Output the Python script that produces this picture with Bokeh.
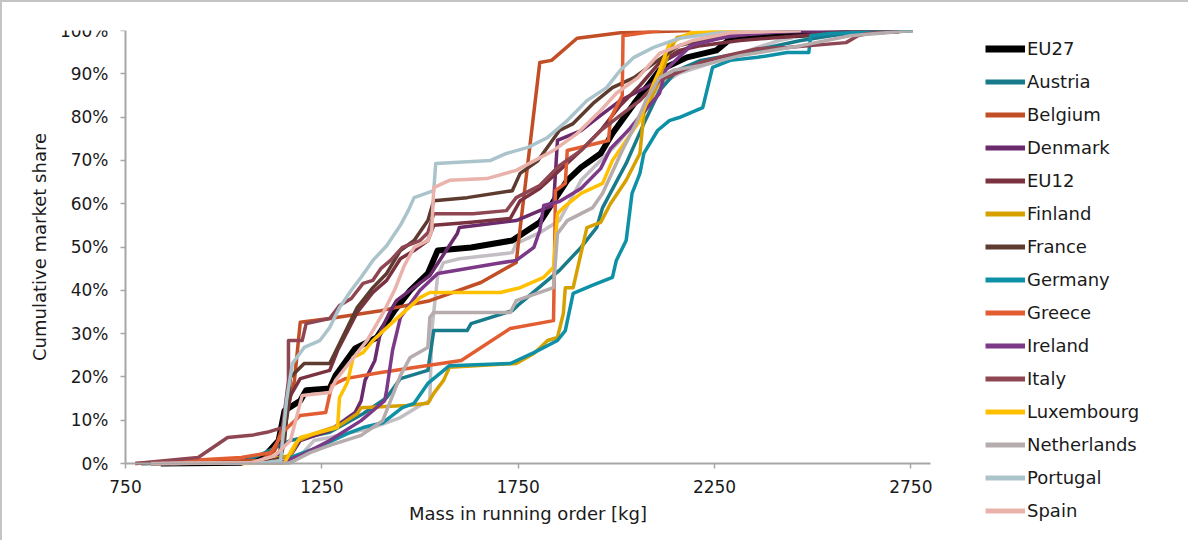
from bokeh.plotting import figure
from bokeh.models import Range1d, FixedTicker, NumeralTickFormatter, Legend, LegendItem
from bokeh.embed import file_html
from bokeh.resources import INLINE

# ---- data: mass in running order [kg] and cumulative share [%] ----
eu27_kg = [840, 1045, 1105, 1140, 1155, 1195, 1210, 1270, 1285, 1335, 1390, 1435, 1475, 1520, 1545, 1630, 1735, 1805, 1875, 1910, 1960, 1990, 2045, 2110, 2180, 2255, 2295, 2550, 2720]
eu27_pct = [0, 0.2, 1.8, 5.3, 12.2, 14.5, 16.9, 17.3, 20.3, 26.6, 29.1, 35.3, 40.0, 43.9, 49.2, 49.9, 51.5, 55.7, 65.4, 68.4, 71.6, 76.2, 83.1, 90.8, 93.8, 95.4, 98.4, 99.3, 100]

austria_kg = [790, 1045, 1100, 1170, 1270, 1355, 1415, 1450, 1520, 1535, 1620, 1630, 1735, 1755, 1855, 1910, 1950, 1965, 2025, 2070, 2110, 2155, 2215, 2315, 2470, 2595, 2755]
austria_pct = [0, 0.2, 2.3, 5.3, 7.2, 11.5, 15.2, 19.6, 21.5, 30.7, 30.7, 32.3, 35.3, 37.0, 44.6, 49.9, 54.5, 59.1, 69.3, 78.5, 86.1, 90.8, 93.1, 94.7, 97.7, 99.5, 100]

belgium_kg = [790, 1095, 1130, 1155, 1180, 1195, 1270, 1400, 1525, 1655, 1745, 1750, 1805, 1835, 1900, 2010, 2190]
belgium_pct = [0, 0.7, 3.0, 10.0, 19.0, 32.6, 33.5, 35.3, 37.6, 41.8, 46.4, 50.5, 92.6, 93.1, 98.2, 99.5, 100]

denmark_kg = [815, 1095, 1170, 1195, 1270, 1335, 1350, 1360, 1385, 1400, 1425, 1440, 1525, 1545, 1595, 1600, 1745, 1805, 1840, 1850, 1910, 1960, 2010, 2110, 2125, 2215, 2365, 2595]
denmark_pct = [0, 0.2, 1.8, 5.3, 7.6, 11.8, 14.5, 19.2, 23.8, 30.7, 35.3, 37.6, 43.4, 46.2, 53.1, 54.5, 56.1, 58.4, 59.6, 74.6, 76.9, 80.4, 83.8, 88.5, 93.1, 97.7, 99.5, 100]

eu12_kg = [815, 1070, 1140, 1155, 1170, 1195, 1270, 1290, 1340, 1380, 1415, 1450, 1485, 1520, 1535, 1630, 1730, 1755, 1805, 1855, 1910, 1960, 2010, 2060, 2110, 2160, 2215, 2315, 2470, 2595, 2720]
eu12_pct = [0, 0.2, 1.8, 7.6, 15.7, 19.6, 21.5, 26.1, 34.9, 39.5, 42.3, 47.3, 49.2, 51.5, 55.0, 55.7, 56.6, 60.7, 63.5, 67.7, 72.3, 76.9, 82.7, 87.3, 92.6, 95.4, 96.5, 97.7, 98.8, 99.8, 100]

finland_kg = [815, 1070, 1170, 1190, 1230, 1295, 1340, 1350, 1465, 1520, 1535, 1560, 1575, 1745, 1790, 1825, 1850, 1865, 1870, 1890, 1925, 1960, 1985, 2025, 2060, 2070, 2110, 2135, 2155, 2215, 2365]
finland_pct = [0, 0.2, 1.8, 5.3, 6.9, 8.8, 11.5, 12.9, 13.4, 13.9, 16.2, 19.2, 22.2, 23.1, 25.4, 28.4, 29.1, 34.6, 40.6, 40.6, 54.5, 55.7, 60.0, 65.4, 71.6, 80.8, 88.5, 95.4, 98.4, 99.5, 100]

france_kg = [840, 1095, 1145, 1155, 1170, 1205, 1270, 1295, 1340, 1380, 1415, 1450, 1485, 1520, 1535, 1620, 1735, 1755, 1800, 1855, 1890, 1940, 1990, 2045, 2095, 2160, 2265, 2470]
france_pct = [0, 0.2, 1.2, 5.3, 19.9, 23.1, 23.1, 27.7, 36.0, 40.6, 43.9, 49.2, 51.5, 56.1, 60.7, 61.4, 63.0, 67.0, 69.9, 76.9, 78.5, 83.1, 86.8, 89.1, 92.4, 96.5, 98.8, 100]

germany_kg = [790, 1155, 1170, 1240, 1315, 1355, 1405, 1455, 1485, 1520, 1575, 1730, 1790, 1850, 1870, 1890, 1940, 1990, 2000, 2025, 2040, 2060, 2070, 2105, 2135, 2160, 2220, 2245, 2290, 2360, 2435, 2490, 2495, 2545, 2755]
germany_pct = [0, 0.2, 1.4, 3.7, 6.9, 8.3, 9.4, 12.9, 13.9, 18.5, 22.6, 23.1, 25.6, 28.4, 30.7, 39.3, 41.2, 43.0, 46.9, 51.5, 62.4, 67.0, 71.6, 76.9, 79.2, 79.9, 82.2, 91.5, 93.1, 93.8, 94.9, 94.9, 98.8, 99.3, 100]

greece_kg = [775, 1045, 1120, 1155, 1195, 1260, 1275, 1310, 1400, 1605, 1730, 1840, 1845, 1870, 1875, 1980, 1985, 2015, 2017, 2110]
greece_pct = [0, 1.4, 2.5, 7.6, 11.1, 11.8, 18.0, 19.6, 21.0, 23.8, 31.2, 33.0, 63.0, 64.7, 72.3, 74.6, 79.7, 85.0, 98.8, 100]

ireland_kg = [815, 1145, 1195, 1270, 1350, 1410, 1415, 1430, 1450, 1500, 1545, 1695, 1745, 1790, 1805, 1815, 1855, 1910, 1960, 1985, 2035, 2110, 2125, 2190, 2290, 2470]
ireland_pct = [0, 0.2, 1.8, 5.3, 9.9, 14.5, 16.9, 26.1, 33.7, 40.0, 43.9, 46.2, 46.9, 49.9, 53.8, 59.6, 60.5, 63.5, 68.1, 72.7, 77.4, 85.5, 90.8, 96.5, 98.8, 100]

italy_kg = [775, 935, 1010, 1070, 1110, 1150, 1165, 1165, 1200, 1210, 1270, 1295, 1325, 1355, 1380, 1400, 1425, 1455, 1500, 1520, 1535, 1635, 1720, 1745, 1805, 1855, 1910, 1960, 2010, 2060, 2110, 2215, 2280, 2360, 2435, 2585, 2615, 2640, 2720]
italy_pct = [0, 1.4, 6.0, 6.5, 7.2, 8.3, 19.2, 28.4, 28.4, 32.3, 33.5, 36.5, 38.1, 41.6, 42.3, 45.0, 46.9, 49.9, 51.5, 53.3, 57.7, 57.7, 58.4, 61.4, 64.2, 68.8, 72.3, 76.9, 80.4, 83.8, 88.5, 92.6, 94.2, 95.8, 96.1, 97.2, 98.8, 99.3, 100]

luxembourg_kg = [1045, 1155, 1180, 1195, 1290, 1295, 1315, 1330, 1355, 1380, 1435, 1500, 1525, 1705, 1755, 1815, 1840, 1850, 1865, 1910, 1965, 1990, 2025, 2060, 2095, 2110, 2135, 2190, 2315]
luxembourg_pct = [0, 0.2, 4.2, 6.0, 8.3, 15.2, 18.7, 24.5, 25.6, 28.4, 33.0, 38.3, 39.5, 39.5, 40.6, 43.0, 45.3, 57.7, 59.1, 62.4, 64.7, 70.0, 74.6, 79.2, 87.8, 90.8, 97.0, 99.5, 100]

netherlands_kg = [840, 1170, 1220, 1270, 1350, 1405, 1450, 1475, 1520, 1525, 1535, 1730, 1745, 1840, 1850, 1875, 1940, 1965, 2015, 2050, 2075, 2110, 2145, 2215, 2315, 2470, 2595, 2755]
netherlands_pct = [0, 0.2, 2.5, 4.2, 6.5, 9.9, 20.3, 24.5, 26.8, 33.7, 34.9, 34.9, 37.6, 40.6, 53.1, 56.1, 59.1, 62.4, 72.3, 78.5, 83.8, 89.1, 90.8, 91.9, 94.2, 96.5, 98.8, 100]

portugal_kg = [865, 1105, 1145, 1150, 1160, 1175, 1205, 1245, 1270, 1295, 1325, 1350, 1380, 1415, 1450, 1470, 1485, 1535, 1540, 1680, 1720, 1775, 1825, 1875, 1925, 1975, 2010, 2045, 2095, 2160, 2265, 2470]
portugal_pct = [0, 0.2, 0.7, 5.3, 14.5, 23.1, 26.8, 28.4, 31.4, 36.0, 40.0, 43.0, 46.9, 50.3, 55.0, 58.4, 61.4, 63.0, 69.3, 70.0, 71.6, 73.0, 75.3, 79.2, 83.8, 86.8, 90.8, 93.8, 96.1, 98.2, 99.5, 100]

spain_kg = [815, 1070, 1130, 1170, 1190, 1200, 1270, 1285, 1325, 1365, 1405, 1435, 1460, 1485, 1520, 1530, 1535, 1575, 1670, 1745, 1840, 1900, 1960, 2000, 2055, 2110, 2195, 2290, 2470]
spain_pct = [0, 0.2, 1.8, 5.3, 12.2, 15.7, 16.4, 19.2, 23.8, 28.4, 34.6, 40.0, 45.7, 49.9, 51.5, 53.8, 63.7, 65.4, 65.8, 67.7, 72.3, 76.2, 81.5, 85.5, 89.1, 94.7, 97.7, 99.5, 100]

# a further grey series drawn in the chart but not named in the visible legend
other_kg = [840, 1170, 1195, 1230, 1270, 1325, 1375, 1450, 1500, 1525, 1530, 1545, 1560, 1600, 1735, 1745, 1805, 1855, 1910, 1960, 2010, 2060, 2110, 2160, 2245, 2290, 2360, 2415, 2500, 2755]
other_pct = [0, 0.2, 1.8, 5.3, 6.0, 7.2, 8.1, 10.6, 13.4, 14.5, 30.7, 43.4, 46.4, 47.3, 48.7, 50.8, 53.3, 56.1, 65.4, 70.0, 74.6, 80.4, 87.3, 90.1, 92.6, 93.8, 96.1, 97.7, 99.3, 100]

series_names = ["EU27", "Austria", "Belgium", "Denmark", "EU12", "Finland", "France", "Germany",
                "Greece", "Ireland", "Italy", "Luxembourg", "Netherlands", "Portugal", "Spain"]
series_kg = [eu27_kg, austria_kg, belgium_kg, denmark_kg, eu12_kg, finland_kg, france_kg, germany_kg,
             greece_kg, ireland_kg, italy_kg, luxembourg_kg, netherlands_kg, portugal_kg, spain_kg]
series_pct = [eu27_pct, austria_pct, belgium_pct, denmark_pct, eu12_pct, finland_pct, france_pct, germany_pct,
              greece_pct, ireland_pct, italy_pct, luxembourg_pct, netherlands_pct, portugal_pct, spain_pct]
series_colors = ["#000000", "#177B8B", "#C24E26", "#6A2A6C", "#7A3240", "#D6A100", "#5E3B2F", "#0E90A6",
                 "#E25E32", "#7C3987", "#8E4653", "#FFC000", "#B6ABAD", "#ABC4CC", "#E9B3AC"]
other_color = "#C3BEC4"

x_ticks = [750, 1250, 1750, 2250, 2750]
y_ticks = [0, 0.1, 0.2, 0.3, 0.4, 0.5, 0.6, 0.7, 0.8, 0.9, 1.0]
X_MIN, X_MAX = 750, 2800   # extent of the visible mass axis
Y_MIN, Y_MAX = 0, 1        # extent of the visible share axis

FONT = "DejaVu Sans"
TXT = "#1a1a1a"
B = 2                      # page frame line at top and left
W, H = 1188, 540
LEFT, TOP = 30 - B, 30 - B               # frame origin inside the figure
AXIS_X0 = 125 - 30                       # where 750 kg sits inside the frame
AXIS_PX = 805                            # length of the mass axis in pixels
SHARE_PX = 433                           # length of the share axis in pixels
FRAME_W = W - 8 - LEFT                   # frame reaches into the legend area
FRAME_H = H - 4 - TOP                    # frame reaches below the x axis
KG_PER_PX = (X_MAX - X_MIN) / AXIS_PX
x_start = X_MIN - AXIS_X0 * KG_PER_PX
x_end = x_start + FRAME_W * KG_PER_PX
y_start = Y_MAX - FRAME_H / SHARE_PX

p = figure(width=W, height=H, output_backend="svg", toolbar_location=None,
           x_range=Range1d(x_start, x_end), y_range=Range1d(y_start, Y_MAX),
           min_border_left=LEFT, min_border_right=8, min_border_top=TOP, min_border_bottom=4,
           styles={"border-top": f"{B}px solid #c4c4c4", "border-left": f"{B}px solid #c4c4c4"})
p.outline_line_color = None
p.grid.visible = False
p.background_fill_color = "white"

# extra grey series first (underneath)
p.line(other_kg, [v / 100 for v in other_pct], line_color=other_color, line_width=3.5, line_join="round")

nan = float("nan")
items = []
for name, xs, ys, col in zip(series_names, series_kg, series_pct, series_colors):
    lw = 6 if name == "EU27" else 3.5
    p.line(xs, [v / 100 for v in ys], line_color=col, line_width=lw, line_join="round")
    # invisible (NaN) twin supplies the thicker legend sample
    sample = p.line(xs[:2], [nan, nan], line_color=col, line_width=7 if name == "EU27" else 5)
    items.append(LegendItem(label=name, renderers=[sample]))

legend = Legend(items=items, location=(985 - 30, 17), padding=0, margin=0,
                border_line_color=None, background_fill_alpha=0,
                glyph_width=40, glyph_height=21, label_height=21, spacing=12,
                label_standoff=2, label_text_font=FONT, label_text_font_size="18px",
                label_text_color=TXT)
p.add_layout(legend, "center")

for ax in (p.xaxis[0], p.yaxis[0]):
    ax.axis_line_color = "#A6A6A6"
    ax.axis_line_width = 2
    ax.major_tick_line_color = "#A6A6A6"
    ax.major_tick_line_width = 1.5
    ax.major_tick_out = 5
    ax.major_tick_in = 0
    ax.minor_tick_line_color = None
    ax.major_label_text_font = FONT
    ax.major_label_text_font_size = "17px"
    ax.major_label_text_color = TXT
    ax.axis_label_text_font = FONT
    ax.axis_label_text_font_size = "18px"
    ax.axis_label_text_font_style = "normal"
    ax.axis_label_text_color = TXT

p.xaxis.ticker = FixedTicker(ticks=x_ticks)
p.yaxis.ticker = FixedTicker(ticks=y_ticks)
p.xaxis.bounds = (X_MIN, X_MAX)
p.yaxis.bounds = (Y_MIN, Y_MAX)
p.xaxis.fixed_location = Y_MIN
p.yaxis.fixed_location = X_MIN
p.yaxis.formatter = NumeralTickFormatter(format="0%")
p.xaxis.axis_label = "Mass in running order [kg]"
p.yaxis.axis_label = "Cumulative market share"
p.xaxis.major_label_standoff = 11
p.yaxis.major_label_standoff = 12
p.xaxis.axis_label_standoff = 7
p.yaxis.axis_label_standoff = 7

open("out.html", "w").write(file_html(p, INLINE))
